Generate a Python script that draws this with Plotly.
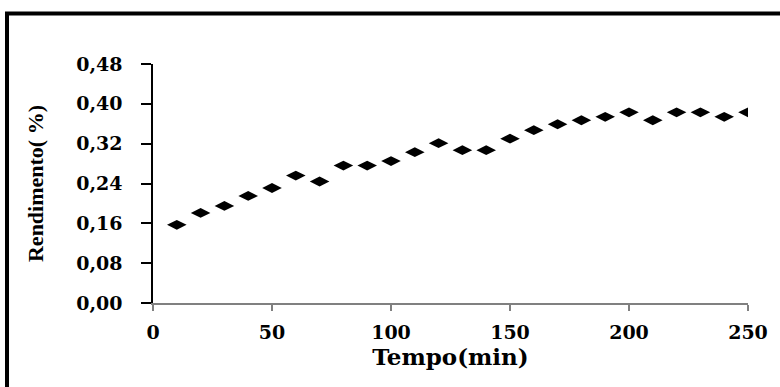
import plotly.graph_objects as go

tempo = [10, 20, 30, 40, 50, 60, 70, 80, 90, 100, 110, 120, 130, 140, 150,
         160, 170, 180, 190, 200, 210, 220, 230, 240, 250]
rendimento = [0.157, 0.181, 0.195, 0.215, 0.231, 0.256, 0.244, 0.276, 0.276, 0.285,
              0.303, 0.321, 0.307, 0.307, 0.330, 0.347, 0.359, 0.367, 0.374, 0.383,
              0.367, 0.383, 0.383, 0.374, 0.383]
x_ticks = [0, 50, 100, 150, 200, 250]
y_ticks = [0.00, 0.08, 0.16, 0.24, 0.32, 0.40, 0.48]

W, H = 780, 387
ml, mr, mt, mb = 153, 32, 64, 84
pw, ph = W - ml - mr, H - mt - mb

fig = go.Figure()
fig.add_trace(go.Scatter(
    x=tempo, y=rendimento, mode="markers",
    marker=dict(symbol="diamond-wide", size=14, color="black"),
    showlegend=False,
))

tick_font = dict(family="DejaVu Serif", size=19, color="black", weight="bold")

fig.update_layout(
    width=W, height=H,
    margin=dict(l=ml, r=mr, t=mt, b=mb, pad=0),
    paper_bgcolor="white", plot_bgcolor="white",
    separators=",.",
    xaxis=dict(
        range=[0, 250], tickvals=x_ticks, tickformat="d",
        showgrid=False, zeroline=False,
        showline=True, linecolor="#808080", linewidth=1.5,
        ticks="outside", ticklen=6, tickcolor="#808080", tickwidth=1.5,
        tickfont=tick_font, ticklabelstandoff=5,
        title=dict(text="Tempo(min)", standoff=6,
                   font=dict(family="DejaVu Serif", size=23, color="black", weight="bold")),
    ),
    yaxis=dict(
        range=[0, 0.48], tickvals=y_ticks, tickformat=".2f",
        showgrid=False, zeroline=False,
        showline=True, linecolor="black", linewidth=1.5,
        ticks="outside", ticklen=10, tickcolor="black", tickwidth=1.5,
        tickfont=tick_font, ticklabelstandoff=15,
        title=dict(text="Rendimento( %)", standoff=26,
                   font=dict(family="Liberation Serif", size=22, color="black", weight="bold")),
    ),
)

# outer frame (top and left edges visible, rest cropped off)
bx = (7 - ml) / pw
by = 1 + (mt - 13.5) / ph
fig.add_shape(type="path", xref="paper", yref="paper",
              path=f"M {bx} -1 L {bx} {by} L 2 {by}",
              line=dict(color="black", width=4), layer="above")

fig.write_html("out.html")
